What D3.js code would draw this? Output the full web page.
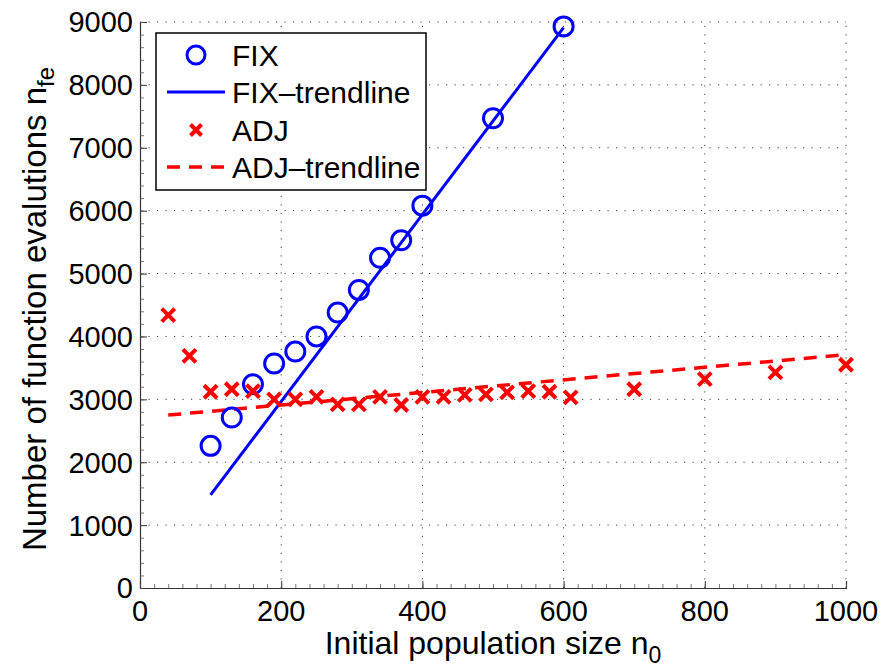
<!DOCTYPE html>
<html>
<head>
<meta charset="utf-8">
<script src="https://cdn.jsdelivr.net/npm/d3@7"></script>
<style>
  html, body { margin: 0; padding: 0; background: #fff; }
  svg { display: block; font-family: "Liberation Sans", Arial, Helvetica, sans-serif; }
</style>
</head>
<body>
<svg id="chart" width="884" height="669"></svg>
<script>
// Initial population size for the FIX strategy and the evaluations it needed
const fixX = [100, 130, 160, 190, 220, 250, 280, 310, 340, 370, 400, 500, 600];
const fixY = [2260, 2710, 3240, 3570, 3760, 4000, 4380, 4740, 5250, 5530, 6080, 7470, 8930];

// Initial population size for the ADJ strategy and the evaluations it needed
const adjX = [40, 70, 100, 130, 160, 190, 220, 250, 280, 310, 340, 370, 400, 430, 460, 490, 520, 550, 580, 610, 700, 800, 900, 1000];
const adjY = [4340, 3690, 3120, 3160, 3130, 3000, 3000, 3040, 2920, 2920, 3040, 2910, 3040, 3040, 3070, 3080, 3110, 3130, 3120, 3030, 3160, 3320, 3430, 3550];

// Linear trendlines (end points)
const fixTrendX = [100, 600];
const fixTrendY = [1480, 8910];
const adjTrendX = [40, 1000];
const adjTrendY = [2750, 3710];

// Tick values
const xTicks = [0, 200, 400, 600, 800, 1000];
const yTicks = [0, 1000, 2000, 3000, 4000, 5000, 6000, 7000, 8000, 9000];

const legendLabels = ["FIX", "FIX\u2013trendline", "ADJ", "ADJ\u2013trendline"];

const BLUE = "#0000ff", RED = "#ff0000";
const TICK_FONT = 29, LABEL_FONT = 32, LEGEND_FONT = 30;

const svg = d3.select("#chart");
const plot = { left: 140, right: 846, top: 22, bottom: 588 };

const x = d3.scaleLinear().domain([0, 1000]).range([plot.left, plot.right]);
const y = d3.scaleLinear().domain([0, 9000]).range([plot.bottom, plot.top]);

// dotted grid
const grid = svg.append("g").attr("stroke", "#3a3a3a").attr("stroke-width", 1)
  .attr("stroke-dasharray", "1.2,7.3").attr("fill", "none");
xTicks.filter(d => d > 0).forEach(d => {
  grid.append("line").attr("x1", x(d)).attr("x2", x(d)).attr("y1", plot.bottom).attr("y2", plot.top);
});
yTicks.filter(d => d > 0).forEach(d => {
  grid.append("line").attr("x1", plot.left).attr("x2", plot.right).attr("y1", y(d)).attr("y2", y(d));
});

// axes (left and bottom only) with inward ticks
const xAxis = d3.axisBottom(x).tickValues(xTicks).tickSize(-7).tickPadding(0).tickFormat("");
const yAxis = d3.axisLeft(y).tickValues(yTicks).tickSize(-7).tickPadding(0).tickFormat("");
const gx = svg.append("g").attr("transform", `translate(0,${plot.bottom})`).call(xAxis);
const gy = svg.append("g").attr("transform", `translate(${plot.left},0)`).call(yAxis);
[gx, gy].forEach(g => {
  g.select(".domain").attr("stroke", "#333").attr("stroke-width", 1.2);
  g.selectAll(".tick line").attr("stroke", "#333").attr("stroke-width", 1);
});
// minor ticks
const xMinor = d3.axisBottom(x).tickValues(d3.range(0, 1001, 20)).tickSize(-4).tickFormat("");
const yMinor = d3.axisLeft(y).tickValues(d3.range(0, 9001, 200)).tickSize(-4).tickFormat("");
svg.append("g").attr("transform", `translate(0,${plot.bottom})`).call(xMinor)
  .call(g => g.select(".domain").remove())
  .selectAll(".tick line").attr("stroke", "#555").attr("stroke-width", 0.8);
svg.append("g").attr("transform", `translate(${plot.left},0)`).call(yMinor)
  .call(g => g.select(".domain").remove())
  .selectAll(".tick line").attr("stroke", "#555").attr("stroke-width", 0.8);

// tick labels
svg.append("g").selectAll("text").data(xTicks).join("text")
  .attr("x", d => x(d)).attr("y", plot.bottom + 33)
  .attr("text-anchor", "middle").attr("font-size", TICK_FONT).attr("fill", "#000")
  .text(d => d);
svg.append("g").selectAll("text").data(yTicks).join("text")
  .attr("x", plot.left - 7).attr("y", d => y(d)).attr("dy", "0.36em")
  .attr("text-anchor", "end").attr("font-size", TICK_FONT).attr("fill", "#000")
  .text(d => d);

// axis titles
const xl = svg.append("text").attr("x", (plot.left + plot.right) / 2).attr("y", 654)
  .attr("text-anchor", "middle").attr("font-size", LABEL_FONT).attr("fill", "#000");
xl.append("tspan").text("Initial population size n");
xl.append("tspan").attr("font-size", 23).attr("dy", 9).text("0");

const yl = svg.append("text")
  .attr("transform", `translate(46,${(plot.top + plot.bottom) / 2 + 4}) rotate(-90)`)
  .attr("text-anchor", "middle").attr("font-size", 33).attr("fill", "#000");
yl.append("tspan").text("Number of function evalutions n");
yl.append("tspan").attr("font-size", 24).attr("dy", 8).text("fe");

// trendlines
const line = d3.line().x(d => x(d[0])).y(d => y(d[1]));
svg.append("path").datum(d3.zip(fixTrendX, fixTrendY)).attr("d", line)
  .attr("fill", "none").attr("stroke", BLUE).attr("stroke-width", 3);
svg.append("path").datum(d3.zip(adjTrendX, adjTrendY)).attr("d", line)
  .attr("fill", "none").attr("stroke", RED).attr("stroke-width", 3.5)
  .attr("stroke-dasharray", "13,9");

// FIX markers: open circles
svg.append("g").selectAll("circle").data(d3.zip(fixX, fixY)).join("circle")
  .attr("cx", d => x(d[0])).attr("cy", d => y(d[1])).attr("r", 9.5)
  .attr("fill", "none").attr("stroke", BLUE).attr("stroke-width", 3);

// ADJ markers: crosses
const cross = (s) => `M${-s},${-s}L${s},${s}M${-s},${s}L${s},${-s}`;
svg.append("g").selectAll("path").data(d3.zip(adjX, adjY)).join("path")
  .attr("transform", d => `translate(${x(d[0])},${y(d[1])})`)
  .attr("d", cross(6.5)).attr("fill", "none").attr("stroke", RED).attr("stroke-width", 4);

// legend
const lg = svg.append("g");
lg.append("rect").attr("x", 156).attr("y", 33).attr("width", 270).attr("height", 157)
  .attr("fill", "#fff").attr("stroke", "#000").attr("stroke-width", 1.5);
const rowY = [55, 92, 130, 167];
const symX = 196;
lg.append("circle").attr("cx", symX).attr("cy", rowY[0]).attr("r", 9)
  .attr("fill", "none").attr("stroke", BLUE).attr("stroke-width", 3);
lg.append("line").attr("x1", 167).attr("x2", 225).attr("y1", rowY[1]).attr("y2", rowY[1])
  .attr("stroke", BLUE).attr("stroke-width", 3);
lg.append("path").attr("transform", `translate(${symX},${rowY[2]})`).attr("d", cross(5.5))
  .attr("fill", "none").attr("stroke", RED).attr("stroke-width", 4);
lg.append("line").attr("x1", 167).attr("x2", 225).attr("y1", rowY[3]).attr("y2", rowY[3])
  .attr("stroke", RED).attr("stroke-width", 3.5).attr("stroke-dasharray", "13,9");
lg.selectAll("text.lbl").data(legendLabels).join("text").attr("class", "lbl")
  .attr("x", 232).attr("y", (d, i) => rowY[i]).attr("dy", "0.36em")
  .attr("font-size", LEGEND_FONT).attr("fill", "#000").text(d => d);
</script>
</body>
</html>
